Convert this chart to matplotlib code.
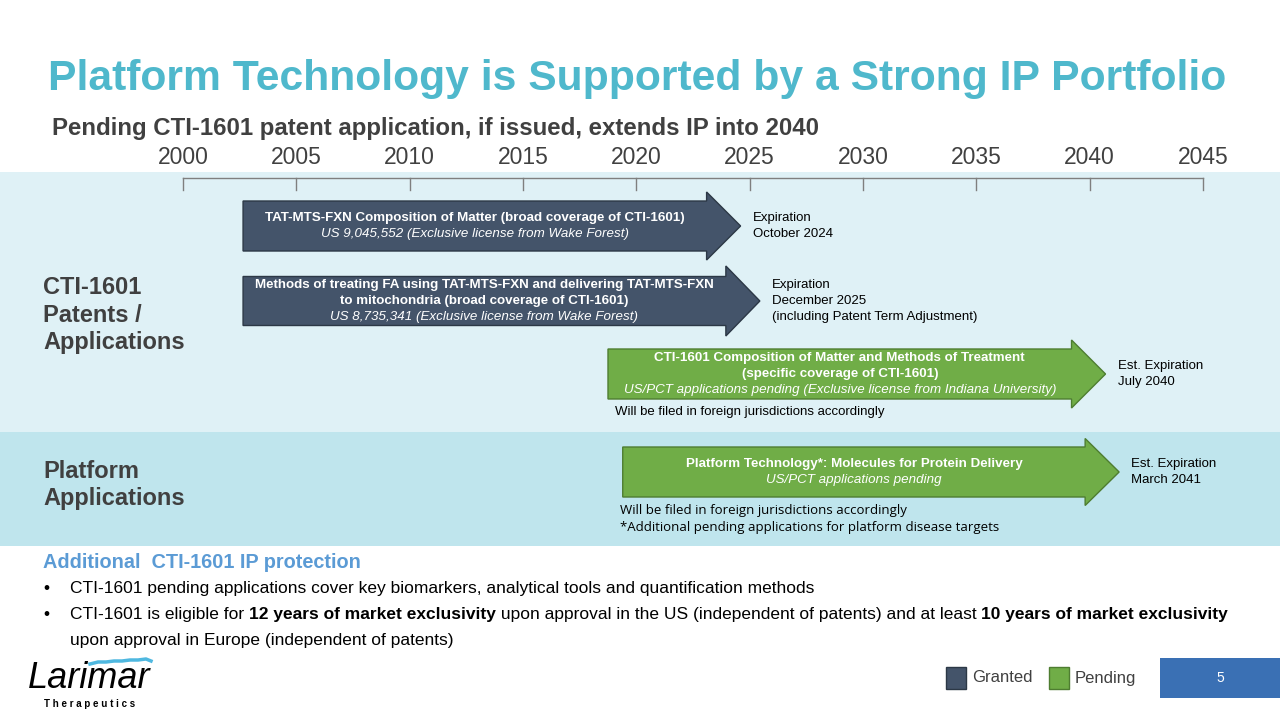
import matplotlib.pyplot as plt
from matplotlib.patches import Polygon, Rectangle

plt.rcParams['font.family'] = ['Liberation Sans', 'DejaVu Sans']

# timeline data
tick_years = [2000, 2005, 2010, 2015, 2020, 2025, 2030, 2035, 2040, 2045]
arrow_start = [2002.65, 2002.65, 2018.75, 2019.4]
arrow_end = [2024.6, 2025.45, 2040.7, 2041.3]
arrow_status = ["Granted", "Granted", "Pending", "Pending"]
arrow_bold = [
    ["TAT-MTS-FXN Composition of Matter (broad coverage of CTI-1601)"],
    ["Methods of treating FA using TAT-MTS-FXN and delivering TAT-MTS-FXN",
     "to mitochondria (broad coverage of CTI-1601)"],
    ["CTI-1601 Composition of Matter and Methods of Treatment",
     "(specific coverage of CTI-1601)"],
    ["Platform Technology*: Molecules for Protein Delivery"],
]
arrow_italic = [
    "US 9,045,552 (Exclusive license from Wake Forest)",
    "US 8,735,341 (Exclusive license from Wake Forest)",
    "US/PCT applications pending (Exclusive license from Indiana University)",
    "US/PCT applications pending",
]
expiry_text = [
    "Expiration\nOctober 2024",
    "Expiration\nDecember 2025\n(including Patent Term Adjustment)",
    "Est. Expiration\nJuly 2040",
    "Est. Expiration\nMarch 2041",
]
status_colors = {"Granted": "#44546a", "Pending": "#70ad47"}
status_edges = {"Granted": "#2c3846", "Pending": "#4e7d31"}

# layout (pixels)
W, H = 1280, 720
px0, px_per_year = 183, 1020 / 45
arrow_center = [226, 301, 374, 472]
arrow_body = [50, 49, 50, 50]
arrow_head = [68, 70, 68, 67]
head_len = 34
dark = "#404040"

fig = plt.figure(figsize=(12.8, 7.2), dpi=100)
bg = fig.add_axes([0, 0, 1, 1])
bg.set_xlim(0, W)
bg.set_ylim(H, 0)
bg.axis('off')

tl = fig.add_axes([0, 0, 1, 1])
tl.set_xlim(2000 - px0 / px_per_year, 2000 + (W - px0) / px_per_year)
tl.set_ylim(H, 0)
tl.axis('off')
tl.patch.set_alpha(0)

# bands
bg.add_patch(Rectangle((0, 172), W, 260, color="#dff1f6", lw=0))
bg.add_patch(Rectangle((0, 432), W, 114, color="#bfe5ed", lw=0))

# title
bg.text(637, 79, "Platform Technology is Supported by a Strong IP Portfolio",
        ha='center', va='center', fontsize=30.7, fontweight='bold', color="#4fb8cc")
bg.text(52, 128, "Pending CTI-1601 patent application, if issued, extends IP into 2040",
        ha='left', va='center', fontsize=17.3, fontweight='bold', color=dark)

# timeline axis
tl.plot([tick_years[0], tick_years[-1]], [178, 178], color="#7f7f7f", lw=1)
for yr in tick_years:
    tl.plot([yr, yr], [178, 190], color="#7f7f7f", lw=1)
    tl.text(yr, 158, str(yr), ha='center', va='center', fontsize=16.5, color=dark)

# arrows
hl = head_len / px_per_year
for i in range(len(arrow_start)):
    x0, x1 = arrow_start[i], arrow_end[i]
    yc, bh, hh = arrow_center[i], arrow_body[i] / 2, arrow_head[i] / 2
    pts = [(x0, yc - bh), (x1 - hl, yc - bh), (x1 - hl, yc - hh), (x1, yc),
           (x1 - hl, yc + hh), (x1 - hl, yc + bh), (x0, yc + bh)]
    st = arrow_status[i]
    tl.add_patch(Polygon(pts, closed=True, facecolor=status_colors[st],
                         edgecolor=status_edges[st], lw=1))
    lines = arrow_bold[i]
    n = len(lines) + 1
    xm = (x0 + x1 - hl) / 2
    step = 16
    ytop = yc - step * (n - 1) / 2
    for j, s in enumerate(lines):
        tl.text(xm, ytop + j * step, s, ha='center', va='center', fontsize=9.6,
                fontweight='bold', color='white')
    tl.text(xm, ytop + len(lines) * step, arrow_italic[i], ha='center', va='center',
            fontsize=9.6, fontstyle='italic', color='white')
    tl.text(x1 + 12 / px_per_year, yc, expiry_text[i], ha='left', va='center',
            fontsize=9.5, color='black', linespacing=1.4)

# foreign filing notes
bg.text(615, 412, "Will be filed in foreign jurisdictions accordingly",
        ha='left', va='center', fontsize=9.5, color='black')
bg.text(620, 519, "Will be filed in foreign jurisdictions accordingly\n"
        "*Additional pending applications for platform disease targets",
        ha='left', va='center', fontsize=9.5, color='black', family='Open Sans',
        linespacing=1.35)

# left labels
bg.text(43, 315, "CTI-1601\nPatents /\nApplications", ha='left', va='center',
        fontsize=17, fontweight='bold', color=dark, linespacing=1.27)
bg.text(43, 485, "Platform\nApplications", ha='left', va='center',
        fontsize=17, fontweight='bold', color=dark, linespacing=1.27)

# bottom notes
bg.text(43, 562, "Additional  CTI-1601 IP protection", ha='left', va='center',
        fontsize=14.3, fontweight='bold', color="#5b9bd5")
bx, tx = 43, 70
fs = 12.5
bg.text(bx, 588, "\u2022", ha='left', va='center', fontsize=fs, color='black')
bg.text(tx, 588, "CTI-1601 pending applications cover key biomarkers, analytical tools and quantification methods",
        ha='left', va='center', fontsize=fs, color='black')
bg.text(bx, 614, "\u2022", ha='left', va='center', fontsize=fs, color='black')
t = bg.text(tx, 614, "CTI-1601 is eligible for ", ha='left', va='center', fontsize=fs, color='black')
parts = [("12 years of market exclusivity", 'bold'),
         (" upon approval in the US (independent of patents) and at least ", 'normal'),
         ("10 years of market exclusivity", 'bold')]
prev = t
for s, w in parts:
    prev = bg.annotate(s, xycoords=prev, xy=(1, 0.5), ha='left', va='center',
                       fontsize=fs, fontweight=w, color='black')
bg.text(tx, 640, "upon approval in Europe (independent of patents)", ha='left', va='center',
        fontsize=fs, color='black')

# logo
bg.text(28, 688, "Larimar", ha='left', va='baseline', fontsize=26, fontstyle='italic',
        color='black')
bg.plot([90, 98, 106, 114, 122, 130, 138, 146, 151], [664, 662, 662, 661, 661, 660, 660, 659, 661],
        color="#4fb8e0", lw=2.5)
bg.text(90, 704, "T h e r a p e u t i c s", ha='center', va='center', fontsize=7,
        fontweight='bold', color='black')

# legend
for lx, lab in [(946, "Granted"), (1049, "Pending")]:
    bg.add_patch(Rectangle((lx, 667), 20, 22, facecolor=status_colors[lab],
                           edgecolor=status_edges[lab], lw=1))
    bg.text(lx + 26, 678, lab, ha='left', va='center', fontsize=12, color=dark)

# page number
bg.add_patch(Rectangle((1160, 658), 120, 40, color="#3a70b4", lw=0))
bg.text(1220, 678, "5", ha='center', va='center', fontsize=10, color='white')

fig.savefig("out.png", dpi=100)
